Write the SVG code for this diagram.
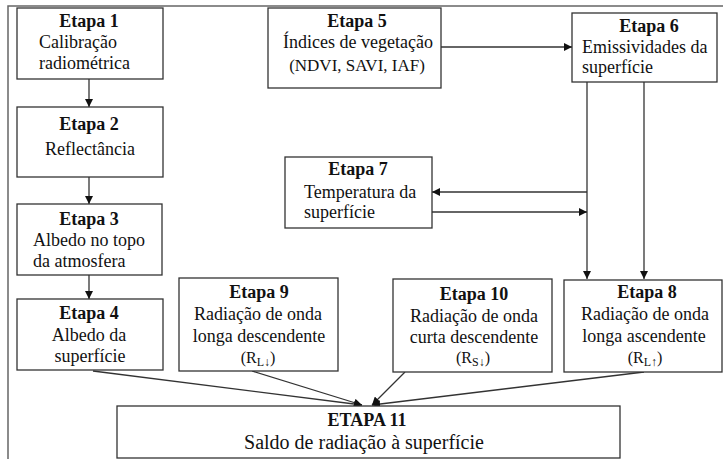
<svg xmlns="http://www.w3.org/2000/svg" width="723" height="459" viewBox="0 0 723 459">
<defs>
<marker id="ah" viewBox="0 0 8 8" refX="8" refY="4" markerWidth="8" markerHeight="8" markerUnits="userSpaceOnUse" orient="auto">
<path d="M0,0 L8,4 L0,8 z" fill="#111"/>
</marker>
<style>
.box{fill:#fff;stroke:#333;stroke-width:1.3}
.t{font-family:"Liberation Serif","Times New Roman",serif;font-size:18px;fill:#111}
.b{font-weight:bold}
.c{text-anchor:middle}
.ln{fill:none;stroke:#333;stroke-width:1.3}
.s{font-size:12px}
.fr{fill:none;stroke:#666;stroke-width:1.5}
</style>
</defs>
<rect width="723" height="459" fill="#fff"/>
<path class="fr" d="M8,459 V6 H723"/>
<g id="connectors">
<line class="ln" x1="89" y1="79" x2="89" y2="107" marker-end="url(#ah)"/>
<line class="ln" x1="89" y1="177" x2="89" y2="204" marker-end="url(#ah)"/>
<line class="ln" x1="89" y1="275" x2="89" y2="299" marker-end="url(#ah)"/>
<line class="ln" x1="441" y1="47" x2="572" y2="47" marker-end="url(#ah)"/>
<line class="ln" x1="587" y1="82" x2="587" y2="279" marker-end="url(#ah)"/>
<line class="ln" x1="644" y1="82" x2="644" y2="279" marker-end="url(#ah)"/>
<line class="ln" x1="587" y1="192" x2="432" y2="192" marker-end="url(#ah)"/>
<line class="ln" x1="432" y1="212" x2="587" y2="212" marker-end="url(#ah)"/>
<line class="ln" x1="93" y1="371" x2="362" y2="405" marker-end="url(#ah)"/>
<line class="ln" x1="252" y1="371" x2="362" y2="405" marker-end="url(#ah)"/>
<line class="ln" x1="405" y1="372" x2="372" y2="405" marker-end="url(#ah)"/>
<line class="ln" x1="644" y1="372" x2="372" y2="405" marker-end="url(#ah)"/>
</g>
<g id="etapa1">
<rect class="box" x="17" y="8" width="146" height="71"/>
<text class="t b c" x="89" y="27">Etapa 1</text>
<text class="t" x="39" y="48">Calibração</text>
<text class="t" x="39" y="69">radiométrica</text>
</g>
<g id="etapa2">
<rect class="box" x="17" y="107" width="146" height="70"/>
<text class="t b c" x="89" y="130">Etapa 2</text>
<text class="t c" x="90" y="155">Reflectância</text>
</g>
<g id="etapa3">
<rect class="box" x="17" y="204" width="145" height="71"/>
<text class="t b c" x="89" y="225">Etapa 3</text>
<text class="t" x="33" y="246">Albedo no topo</text>
<text class="t" x="33" y="267">da atmosfera</text>
</g>
<g id="etapa4">
<rect class="box" x="17" y="299" width="146" height="71"/>
<text class="t b c" x="89" y="319">Etapa 4</text>
<text class="t c" x="89" y="341">Albedo da</text>
<text class="t c" x="90" y="362">superfície</text>
</g>
<g id="etapa5">
<rect class="box" x="268" y="8" width="173" height="80"/>
<text class="t b c" x="357" y="27">Etapa 5</text>
<text class="t c" x="358" y="48">Índices de vegetação</text>
<text class="t c" x="357" y="71" style="font-size:17px">(NDVI, SAVI, IAF)</text>
</g>
<g id="etapa6">
<rect class="box" x="572" y="13" width="145" height="69"/>
<text class="t b c" x="649" y="32">Etapa 6</text>
<text class="t" x="582" y="53">Emissividades da</text>
<text class="t" x="582" y="73">superfície</text>
</g>
<g id="etapa7">
<rect class="box" x="285" y="157" width="147" height="71"/>
<text class="t b c" x="358" y="175">Etapa 7</text>
<text class="t" x="304" y="198">Temperatura da</text>
<text class="t" x="304" y="218">superfície</text>
</g>
<g id="etapa8">
<rect class="box" x="564" y="280" width="158" height="92"/>
<text class="t b c" x="647" y="298">Etapa 8</text>
<text class="t c" x="645" y="320">Radiação de onda</text>
<text class="t c" x="644" y="342">longa ascendente</text>
<text class="t c" x="645" y="363" style="font-size:16px">(R<tspan class="s" dy="3">L↑</tspan><tspan dy="-3">)</tspan></text>
</g>
<g id="etapa9">
<rect class="box" x="179" y="278" width="159" height="93"/>
<text class="t b c" x="259" y="298">Etapa 9</text>
<text class="t c" x="258" y="320">Radiação de onda</text>
<text class="t c" x="259" y="342">longa descendente</text>
<text class="t c" x="258" y="363" style="font-size:16px">(R<tspan class="s" dy="3">L↓</tspan><tspan dy="-3">)</tspan></text>
</g>
<g id="etapa10">
<rect class="box" x="393" y="279" width="159" height="93"/>
<text class="t b c" x="474" y="300">Etapa 10</text>
<text class="t c" x="474" y="322">Radiação de onda</text>
<text class="t c" x="474" y="343">curta descendente</text>
<text class="t c" x="473" y="363" style="font-size:16px">(R<tspan class="s" dy="3">S↓</tspan><tspan dy="-3">)</tspan></text>
</g>
<g id="etapa11">
<rect class="box" x="117" y="406" width="503" height="52"/>
<text class="t b c" x="367" y="426">ETAPA 11</text>
<text class="t c" x="364" y="449" style="font-size:20px">Saldo de radiação à superfície</text>
</g>
</svg>
